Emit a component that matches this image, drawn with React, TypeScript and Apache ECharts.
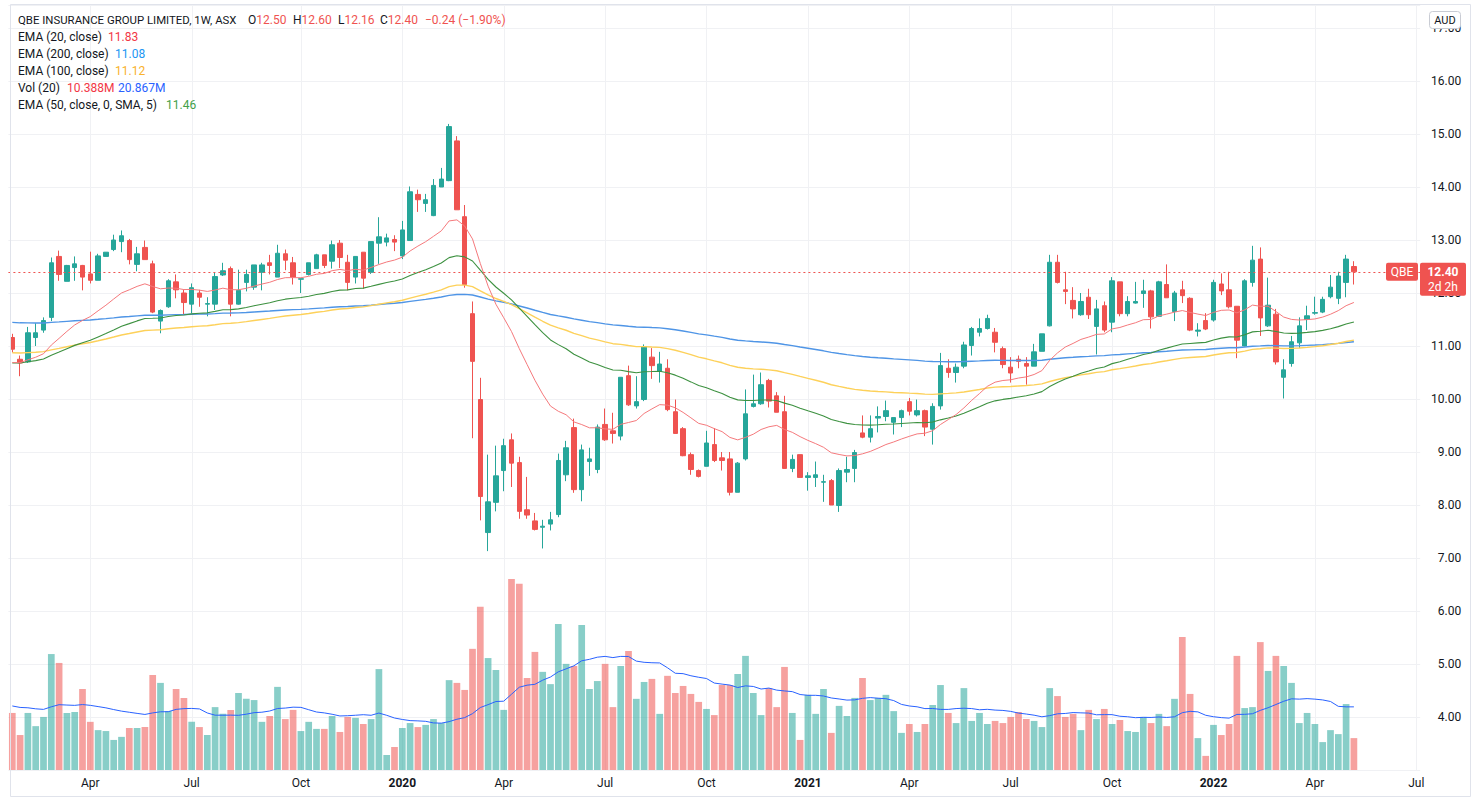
import React, { useEffect, useRef } from 'react';
import * as echarts from 'echarts';

const FONT = 'Roboto, "Noto Sans", sans-serif';
const TEXT = '#131722';
const UP = '#26a69a';
const DOWN = '#ef5350';
const VOL_UP = 'rgba(38,166,154,0.55)';
const VOL_DOWN = 'rgba(239,83,80,0.55)';
const GRID = '#f0f1f4';

// weekly bars, first bar = week of 2019-01-21
const START_WEEK_UTC = Date.UTC(2019, 0, 21);
const FUTURE_WEEKS = 8;

const OPEN = [
  11.16, 10.75, 10.70, 11.16, 11.30, 11.54, 12.69, 12.22, 12.48, 12.52,
  12.36, 12.24, 12.69, 12.82, 12.97, 12.99, 12.54, 12.86, 12.55, 11.47,
  11.74, 12.21, 12.00, 11.79, 12.00, 11.79, 11.79, 12.34, 12.46, 11.79,
  12.20, 12.11, 12.39, 12.57, 12.30, 12.74, 12.57, 12.26, 12.35, 12.46,
  12.72, 12.60, 12.94, 12.58, 12.30, 12.77, 12.39, 12.94, 12.96, 13.01,
  12.70, 12.99, 13.86, 13.69, 13.46, 14.00, 14.12, 14.87, 13.44, 11.61,
  9.99, 7.48, 8.05, 8.65, 9.23, 8.80, 7.91, 7.70, 7.58, 7.64,
  7.82, 8.57, 9.46, 8.29, 8.82, 8.67, 9.52, 9.40, 9.30, 10.44,
  9.87, 9.99, 10.79, 10.52, 10.58, 9.76, 9.44, 8.95, 8.65, 8.73,
  9.14, 8.89, 8.87, 8.24, 8.87, 9.86, 9.91, 10.35, 10.06, 9.76,
  8.69, 8.95, 8.52, 8.52, 8.43, 8.46, 7.99, 8.62, 8.69, 9.36,
  9.28, 9.64, 9.67, 9.56, 9.65, 9.95, 9.70, 9.78, 9.43, 9.87,
  10.58, 10.50, 10.62, 11.01, 11.26, 11.33, 11.26, 10.95, 10.60, 10.75,
  10.67, 10.62, 10.90, 11.38, 12.58, 12.06, 11.86, 11.59, 11.92, 11.37,
  11.76, 11.45, 12.21, 11.61, 11.81, 11.99, 12.04, 11.56, 12.16, 11.65,
  12.06, 11.90, 11.28, 11.48, 11.49, 12.17, 12.06, 11.75, 11.00, 12.20,
  12.64, 11.38, 11.60, 10.41, 10.67, 11.06, 11.50, 11.62, 11.64, 11.93,
  11.90, 12.20, 12.50,
];

const HIGH = [
  11.23, 10.82, 11.36, 11.43, 11.54, 12.67, 12.80, 12.53, 12.69, 12.53,
  12.78, 12.74, 12.77, 13.10, 13.18, 13.02, 12.87, 12.99, 12.61, 11.69,
  12.26, 12.35, 12.06, 12.18, 12.06, 11.92, 12.38, 12.57, 12.50, 12.44,
  12.44, 12.53, 12.57, 12.72, 12.91, 12.82, 12.68, 12.27, 12.57, 12.74,
  12.72, 12.99, 13.00, 12.72, 12.69, 12.77, 12.97, 13.43, 13.12, 13.09,
  13.36, 14.01, 13.95, 13.87, 14.15, 14.36, 15.19, 14.96, 13.66, 11.84,
  10.40, 8.95, 9.12, 9.25, 9.35, 8.91, 8.53, 7.85, 7.72, 7.87,
  8.97, 9.21, 9.63, 9.14, 9.08, 9.52, 9.82, 9.74, 10.41, 10.63,
  10.43, 11.03, 10.96, 10.89, 10.75, 9.99, 9.47, 8.99, 8.67, 9.40,
  9.45, 9.00, 9.00, 8.81, 10.18, 10.46, 10.50, 10.38, 10.13, 10.06,
  8.95, 8.95, 8.62, 8.82, 8.57, 8.49, 8.69, 8.91, 9.04, 9.69,
  9.69, 9.86, 9.97, 9.65, 9.80, 10.02, 9.99, 9.80, 9.92, 10.87,
  10.75, 10.67, 11.08, 11.36, 11.52, 11.59, 11.34, 10.99, 10.79, 10.82,
  10.79, 11.04, 11.23, 12.72, 12.72, 12.40, 12.11, 12.00, 12.08, 11.87,
  11.84, 12.30, 12.21, 11.94, 12.21, 12.25, 12.06, 12.23, 12.54, 12.04,
  12.23, 11.92, 11.43, 11.62, 12.25, 12.37, 12.40, 11.75, 12.26, 12.89,
  12.86, 12.29, 11.70, 10.75, 11.19, 11.54, 11.76, 11.93, 11.93, 12.34,
  12.40, 12.72, 12.60,
];

const LOW = [
  10.88, 10.43, 10.68, 11.00, 11.25, 11.47, 12.23, 12.22, 12.23, 12.05,
  12.18, 12.24, 12.69, 12.79, 12.77, 12.54, 12.41, 12.63, 11.62, 11.24,
  11.72, 11.90, 11.59, 11.62, 11.74, 11.56, 11.68, 12.32, 11.56, 11.78,
  12.03, 12.06, 12.05, 12.35, 12.30, 12.43, 12.16, 12.00, 12.33, 12.46,
  12.47, 12.46, 12.47, 12.05, 12.18, 12.08, 12.36, 12.55, 12.88, 12.79,
  12.64, 12.99, 13.53, 13.53, 13.45, 14.00, 14.11, 13.57, 12.10, 9.26,
  7.71, 7.13, 7.88, 8.26, 8.34, 7.74, 7.74, 7.52, 7.18, 7.52,
  7.77, 8.45, 8.23, 8.07, 8.55, 8.60, 9.21, 9.16, 9.22, 9.87,
  9.82, 9.96, 10.38, 10.31, 9.77, 9.35, 8.92, 8.57, 8.52, 8.73,
  8.81, 8.65, 8.18, 8.24, 8.84, 9.84, 9.89, 9.84, 9.75, 8.69,
  8.62, 8.52, 8.27, 8.34, 8.06, 8.00, 7.87, 8.43, 8.43, 9.26,
  9.18, 9.37, 9.58, 9.33, 9.47, 9.69, 9.67, 9.30, 9.14, 9.80,
  10.40, 10.31, 10.58, 10.82, 11.18, 11.31, 10.88, 10.58, 10.31, 10.58,
  10.27, 10.62, 10.90, 11.37, 12.18, 11.79, 11.52, 11.57, 11.51, 10.84,
  11.26, 11.26, 11.56, 11.56, 11.80, 11.72, 11.33, 11.55, 11.91, 11.47,
  11.81, 11.28, 11.18, 11.30, 11.46, 11.96, 11.71, 10.77, 10.99, 12.12,
  11.19, 11.36, 10.65, 10.01, 10.61, 10.96, 11.30, 11.59, 11.62, 11.90,
  11.79, 11.92, 12.16,
];

const CLOSE = [
  10.94, 10.68, 11.25, 11.25, 11.48, 12.57, 12.35, 12.52, 12.55, 12.30,
  12.24, 12.70, 12.77, 13.00, 13.08, 12.63, 12.74, 12.63, 11.64, 11.67,
  12.23, 12.06, 11.82, 12.10, 11.92, 11.80, 12.31, 12.42, 11.79, 12.05,
  12.35, 12.53, 12.53, 12.52, 12.75, 12.62, 12.30, 12.27, 12.57, 12.72,
  12.52, 12.91, 12.67, 12.20, 12.69, 12.28, 12.97, 13.06, 13.04, 12.96,
  13.19, 13.91, 13.76, 13.76, 14.03, 14.15, 15.14, 13.57, 12.16, 10.71,
  8.16, 8.06, 8.55, 9.12, 8.79, 7.88, 7.81, 7.54, 7.60, 7.72,
  8.84, 9.08, 8.29, 9.04, 8.87, 9.47, 9.23, 9.35, 10.41, 9.89,
  9.95, 10.99, 10.63, 10.66, 9.80, 9.35, 8.93, 8.67, 8.54, 9.17,
  8.84, 8.84, 8.24, 8.79, 9.72, 9.91, 10.27, 9.96, 9.75, 8.69,
  8.86, 8.52, 8.55, 8.57, 8.44, 8.00, 8.65, 8.67, 8.99, 9.28,
  9.44, 9.67, 9.78, 9.65, 9.78, 9.77, 9.78, 9.47, 9.86, 10.63,
  10.50, 10.60, 11.02, 11.33, 11.33, 11.52, 11.07, 10.65, 10.49, 10.71,
  10.62, 10.89, 11.23, 12.58, 12.20, 12.03, 11.70, 11.84, 11.59, 11.70,
  11.30, 12.23, 11.61, 11.84, 11.84, 12.04, 11.55, 12.21, 11.91, 12.00,
  11.95, 11.30, 11.30, 11.32, 12.20, 12.04, 11.74, 11.11, 12.23, 12.62,
  11.53, 11.77, 10.70, 10.55, 11.08, 11.38, 11.57, 11.63, 11.88, 12.11,
  12.32, 12.64, 12.40,
];

// weekly volume, millions of shares
const VOLUME_M = [
  18.6, 11.4, 18.6, 14.3, 17.3, 37.8, 34.9, 18.6, 18.9, 26.4,
  15.7, 13.0, 12.7, 9.8, 10.8, 13.7, 13.7, 14.0, 31.0, 28.4,
  19.2, 26.4, 23.5, 15.7, 14.0, 11.4, 20.5, 18.3, 19.6, 25.1,
  23.2, 22.8, 15.7, 17.6, 27.1, 16.6, 19.6, 12.7, 15.7, 13.4,
  13.4, 17.6, 12.4, 17.3, 17.0, 15.0, 16.6, 32.9, 4.9, 7.5,
  13.7, 15.3, 14.0, 14.7, 16.6, 15.3, 29.3, 28.4, 26.1, 39.5,
  53.2, 36.5, 32.6, 19.6, 62.3, 60.7, 30.0, 38.5, 32.0, 28.0,
  47.6, 34.6, 33.9, 47.3, 26.4, 29.0, 34.6, 20.5, 33.9, 38.8,
  23.2, 28.7, 29.7, 18.3, 30.7, 25.1, 27.4, 24.8, 22.2, 19.9,
  17.9, 27.7, 27.7, 31.3, 37.2, 25.1, 17.9, 26.7, 20.5, 33.6,
  18.6, 9.8, 24.5, 18.3, 26.4, 12.1, 20.9, 17.6, 23.5, 30.0,
  22.8, 23.5, 24.5, 19.2, 12.1, 15.0, 12.4, 15.0, 21.2, 27.7,
  18.6, 15.3, 26.7, 16.0, 18.6, 15.0, 16.0, 15.3, 17.3, 18.9,
  16.6, 16.0, 14.0, 26.7, 24.1, 17.3, 18.3, 13.0, 19.6, 16.6,
  19.9, 15.0, 16.3, 12.7, 12.4, 17.3, 15.3, 18.3, 14.3, 23.2,
  43.4, 24.8, 10.4, 4.6, 14.7, 11.4, 15.0, 37.2, 20.2, 20.5,
  41.7, 32.3, 37.2, 33.9, 28.4, 15.3, 18.6, 15.0, 9.1, 13.0,
  11.7, 21.5, 10.4,
];

// indicator starting levels read at the first bar (history before the window)
const EMA20_SEED = 10.66;
const EMA50_SEED = 10.67;
const EMA100_SEED = 10.87;
const EMA200_SEED = 11.45;
const VOLMA_SEED = 21;

const TICKS = [
  { date: '2019-04-01', label: 'Apr', year: false },
  { date: '2019-07-01', label: 'Jul', year: false },
  { date: '2019-10-07', label: 'Oct', year: false },
  { date: '2020-01-06', label: '2020', year: true },
  { date: '2020-04-06', label: 'Apr', year: false },
  { date: '2020-07-06', label: 'Jul', year: false },
  { date: '2020-10-05', label: 'Oct', year: false },
  { date: '2021-01-04', label: '2021', year: true },
  { date: '2021-04-05', label: 'Apr', year: false },
  { date: '2021-07-05', label: 'Jul', year: false },
  { date: '2021-10-04', label: 'Oct', year: false },
  { date: '2022-01-03', label: '2022', year: true },
  { date: '2022-04-04', label: 'Apr', year: false },
  { date: '2022-07-04', label: 'Jul', year: false },
];

const HEADER_TITLE = 'QBE INSURANCE GROUP LIMITED, 1W, ASX';
const HEADER_OHLC = [
  { key: 'O', value: '12.50', x: 248 },
  { key: 'H', value: '12.60', x: 293 },
  { key: 'L', value: '12.16', x: 338 },
  { key: 'C', value: '12.40', x: 380 },
];
const HEADER_CHANGE = '\u22120.24 (\u22121.90%)';
const LEGEND_ROWS = [
  { label: 'EMA (20, close)', values: [{ text: '11.83', color: '#f23645', x: 108 }] },
  { label: 'EMA (200, close)', values: [{ text: '11.08', color: '#2196f3', x: 115 }] },
  { label: 'EMA (100, close)', values: [{ text: '11.12', color: '#f9b22c', x: 115 }] },
  { label: 'Vol (20)', values: [{ text: '10.388M', color: '#f23645', x: 67 }, { text: '20.867M', color: '#2962ff', x: 118 }] },
  { label: 'EMA (50, close, 0, SMA, 5)', values: [{ text: '11.46', color: '#43a047', x: 166 }] },
];

const Y_MIN = 3;
const Y_MAX = 17.434;
const VOL_MAX = 249.4;

function weekDate(i: number) {
  return new Date(START_WEEK_UTC + i * 7 * 86400000).toISOString().slice(0, 10);
}

function ema(values: number[], period: number, seed: number) {
  const a = 2 / (period + 1);
  let prev = seed;
  return values.map((v) => {
    prev = a * v + (1 - a) * prev;
    return +prev.toFixed(4);
  });
}

function sma(values: number[], period: number, seed: number) {
  return values.map((_, i) => {
    let s = 0;
    for (let k = i - period + 1; k <= i; k++) s += k >= 0 ? values[k] : seed;
    return +(s / period).toFixed(3);
  });
}

export default function App() {
  const ref = useRef<HTMLDivElement>(null);

  useEffect(() => {
    if (!ref.current) return;
    const chart = echarts.init(ref.current, undefined, { renderer: 'svg' });

    const categories = Array.from({ length: CLOSE.length + FUTURE_WEEKS }, (_, i) => weekDate(i));
    const tickMap: Record<string, { label: string; year: boolean }> = {};
    TICKS.forEach((t) => (tickMap[t.date] = { label: t.label, year: t.year }));
    const tickIdx = new Set(TICKS.map((t) => categories.indexOf(t.date)));
    const last = CLOSE[CLOSE.length - 1];

    const candles = CLOSE.map((c, i) => [OPEN[i], c, LOW[i], HIGH[i]]);
    const vols = VOLUME_M.map((v, i) => ({
      value: v,
      itemStyle: { color: CLOSE[i] >= OPEN[i] ? VOL_UP : VOL_DOWN },
    }));

    const option: any = {
      animation: false,
      backgroundColor: '#ffffff',
      grid: { left: 8.4, top: 5, width: 1411.8, height: 765, containLabel: false },
      xAxis: {
        type: 'category',
        data: categories,
        boundaryGap: true,
        axisLine: { show: false },
        axisTick: { show: false },
        splitLine: { show: false },
        axisLabel: {
          interval: (idx: number) => tickIdx.has(idx),
          formatter: (val: string) => {
            const t = tickMap[val];
            if (!t) return '';
            return t.year ? `{y|${t.label}}` : t.label;
          },
          color: TEXT,
          fontSize: 12,
          fontFamily: FONT,
          margin: 7,
          rich: { y: { fontWeight: 'bold', fontSize: 12, fontFamily: FONT, color: TEXT } },
        },
      },
      yAxis: [
        {
          type: 'value',
          position: 'right',
          min: Y_MIN,
          max: Y_MAX,
          interval: 1,
          axisLine: { show: false },
          axisTick: { show: false },
          splitLine: { show: true, lineStyle: { color: GRID, width: 1 } },
          axisLabel: {
            showMinLabel: false,
            showMaxLabel: false,
            formatter: (v: number) => (Math.abs(v - Math.round(v)) < 1e-6 ? v.toFixed(2) : ''),
            color: TEXT,
            fontSize: 12,
            fontFamily: FONT,
            align: 'right',
            margin: 41,
          },
        },
        { type: 'value', min: 0, max: VOL_MAX, show: false, splitLine: { show: false } },
      ],
      series: [
        {
          type: 'bar',
          name: 'Volume',
          xAxisIndex: 0,
          yAxisIndex: 1,
          data: vols,
          barWidth: '86%',
          z: 1,
          silent: true,
        },
        {
          type: 'line',
          name: 'Vol MA',
          xAxisIndex: 0,
          yAxisIndex: 1,
          data: sma(VOLUME_M, 20, VOLMA_SEED),
          symbol: 'none',
          lineStyle: { color: '#2962ff', width: 1 },
          z: 2,
          silent: true,
        },
        {
          type: 'candlestick',
          name: 'QBE',
          xAxisIndex: 0,
          yAxisIndex: 0,
          data: candles,
          barWidth: '64%',
          itemStyle: { color: UP, color0: DOWN, borderColor: UP, borderColor0: DOWN, borderWidth: 1 },
          z: 3,
          silent: true,
          markLine: {
            silent: true,
            symbol: ['none', 'none'],
            label: { show: false },
            lineStyle: { color: DOWN, type: [2, 3], width: 1 },
            data: [{ yAxis: last }],
          },
        },
        {
          type: 'line', name: 'EMA200', data: ema(CLOSE, 200, EMA200_SEED), symbol: 'none',
          lineStyle: { color: '#4f95e6', width: 1.4 }, z: 4, silent: true,
        },
        {
          type: 'line', name: 'EMA100', data: ema(CLOSE, 100, EMA100_SEED), symbol: 'none',
          lineStyle: { color: '#fdd15a', width: 1.4 }, z: 4, silent: true,
        },
        {
          type: 'line', name: 'EMA50', data: ema(CLOSE, 50, EMA50_SEED), symbol: 'none',
          lineStyle: { color: '#3d9140', width: 1.1 }, z: 4, silent: true,
        },
        {
          type: 'line', name: 'EMA20', data: ema(CLOSE, 20, EMA20_SEED), symbol: 'none',
          lineStyle: { color: '#f5797c', width: 1 }, z: 4, silent: true,
        },
      ],
    };

    chart.setOption(option);

    const px = (d: string) => chart.convertToPixel({ xAxisIndex: 0 }, d) as number;
    const py = (v: number) => chart.convertToPixel({ yAxisIndex: 0 }, v) as number;
    const yTop = py(Y_MAX);
    const yBottom = py(Y_MIN);
    const yLast = py(last);
    const font = `12px ${FONT}`;

    const graphics: any[] = [];
    TICKS.forEach((t) => {
      const x = Math.round(px(t.date)) + 0.5;
      graphics.push({
        type: 'line', silent: true, z: 0,
        shape: { x1: x, y1: yTop, x2: x, y2: yBottom },
        style: { stroke: GRID, lineWidth: 1 },
      });
    });

    // header
    graphics.push({
      type: 'text', silent: true, z: 100, x: 18, y: 19.5,
      style: { text: HEADER_TITLE, font: `11.4px ${FONT}`, fill: TEXT, verticalAlign: 'middle' },
    });
    HEADER_OHLC.forEach((h) => {
      graphics.push({
        type: 'text', silent: true, z: 100, x: h.x, y: 19.5,
        style: {
          text: `{k|${h.key}}{v|${h.value}}`,
          font, verticalAlign: 'middle',
          rich: { k: { fill: TEXT, font }, v: { fill: DOWN, font } },
        },
      });
    });
    graphics.push({
      type: 'text', silent: true, z: 100, x: 425, y: 19.5,
      style: { text: HEADER_CHANGE, font, fill: DOWN, verticalAlign: 'middle' },
    });
    LEGEND_ROWS.forEach((row, r) => {
      const y = 36.7 + r * 17;
      graphics.push({
        type: 'text', silent: true, z: 100, x: 18, y,
        style: { text: row.label, font, fill: TEXT, verticalAlign: 'middle' },
      });
      row.values.forEach((v) => {
        graphics.push({
          type: 'text', silent: true, z: 100, x: v.x, y,
          style: { text: v.text, font, fill: v.color, verticalAlign: 'middle' },
        });
      });
    });

    // currency box
    graphics.push({
      type: 'rect', silent: true, z: 100,
      shape: { x: 1429.5, y: 11.5, width: 31, height: 17, r: 3 },
      style: { fill: '#ffffff', stroke: '#c9ccd4', lineWidth: 1 },
    });
    graphics.push({
      type: 'text', silent: true, z: 101, x: 1445, y: 20.5,
      style: { text: 'AUD', font: `11px ${FONT}`, fill: TEXT, align: 'center', verticalAlign: 'middle' },
    });

    // last price tags
    graphics.push({
      type: 'rect', silent: true, z: 100,
      shape: { x: 1386, y: yLast - 9, width: 32, height: 18, r: 2 },
      style: { fill: DOWN },
    });
    graphics.push({
      type: 'text', silent: true, z: 101, x: 1402, y: yLast,
      style: { text: 'QBE', font, fill: '#ffffff', align: 'center', verticalAlign: 'middle' },
    });
    graphics.push({
      type: 'rect', silent: true, z: 100,
      shape: { x: 1420, y: yLast - 9, width: 46, height: 33, r: 2 },
      style: { fill: DOWN },
    });
    graphics.push({
      type: 'text', silent: true, z: 101, x: 1443, y: yLast,
      style: { text: last.toFixed(2), font: `bold 12px ${FONT}`, fill: '#ffffff', align: 'center', verticalAlign: 'middle' },
    });
    graphics.push({
      type: 'text', silent: true, z: 101, x: 1443, y: yLast + 15,
      style: { text: '2d 2h', font, fill: '#ffffff', align: 'center', verticalAlign: 'middle' },
    });

    // frame
    graphics.push({
      type: 'rect', silent: true, z: 99,
      shape: { x: 10.5, y: 4.5, width: 1460, height: 792 },
      style: { fill: 'none', stroke: '#e0e3eb', lineWidth: 1 },
    });

    chart.setOption({ graphic: graphics });

    return () => chart.dispose();
  }, []);

  return (
    <div
      ref={ref}
      style={{ position: 'fixed', left: 0, top: 0, width: 1480, height: 801, background: '#ffffff' }}
    />
  );
}
